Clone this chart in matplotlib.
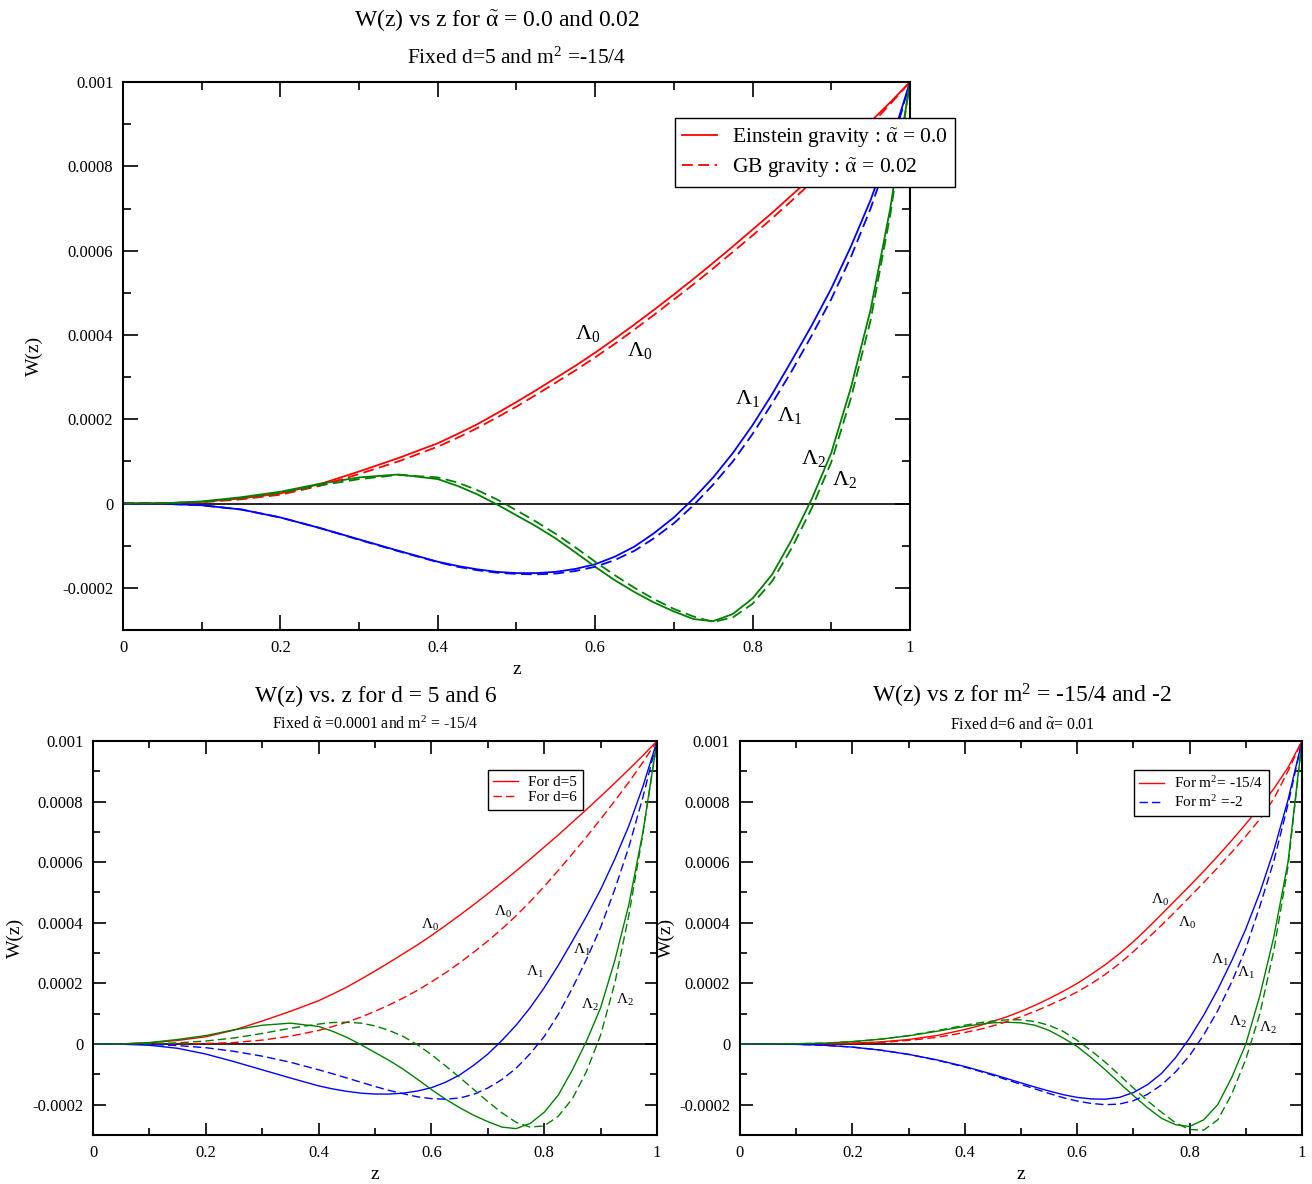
import matplotlib
matplotlib.use("Agg")
import matplotlib.pyplot as plt
from matplotlib.ticker import MultipleLocator, FuncFormatter

plt.rcParams['font.family'] = ['Liberation Serif', 'DejaVu Serif']
plt.rcParams['mathtext.fontset'] = 'custom'
plt.rcParams['mathtext.rm'] = 'Liberation Serif'
plt.rcParams['mathtext.it'] = 'Liberation Serif'
plt.rcParams['mathtext.bf'] = 'Liberation Serif:bold'

# valores (W em unidades de 1e-4)
z = [0, 0.05, 0.1, 0.15, 0.2, 0.25, 0.3, 0.35, 0.4, 0.425, 0.45, 0.475, 0.5,
     0.525, 0.55, 0.575, 0.6, 0.625, 0.65, 0.675, 0.7, 0.725, 0.75, 0.775, 0.8,
     0.825, 0.85, 0.875, 0.9, 0.925, 0.95, 0.975, 1.0]

# painel de cima: Einstein (alpha=0.0) e GB (alpha=0.02), d=5
w0_ein = [0, 0.005, 0.04, 0.12, 0.24, 0.46, 0.76, 1.08, 1.43, 1.65, 1.88, 2.14, 2.41,
          2.69, 2.98, 3.27, 3.58, 3.91, 4.25, 4.6, 4.96, 5.33, 5.71, 6.1, 6.5,
          6.9, 7.32, 7.74, 8.17, 8.61, 9.06, 9.52, 10.0]
w0_gb = [0, 0.004, 0.03, 0.1, 0.21, 0.42, 0.7, 1.0, 1.35, 1.56, 1.79, 2.04, 2.3,
         2.58, 2.87, 3.16, 3.47, 3.79, 4.13, 4.48, 4.84, 5.2, 5.58, 5.97, 6.36,
         6.77, 7.19, 7.62, 8.06, 8.51, 8.98, 9.48, 10.0]
w1_ein = [0, -0.004, -0.04, -0.14, -0.33, -0.58, -0.85, -1.12, -1.38, -1.48, -1.56, -1.62, -1.65,
          -1.65, -1.62, -1.55, -1.44, -1.26, -1.02, -0.7, -0.33, 0.12, 0.62, 1.2, 1.86,
          2.6, 3.4, 4.22, 5.1, 6.1, 7.2, 8.5, 10.0]
w1_gb = [0, -0.004, -0.04, -0.14, -0.33, -0.58, -0.86, -1.13, -1.39, -1.5, -1.58, -1.64, -1.67,
         -1.68, -1.66, -1.6, -1.5, -1.34, -1.12, -0.82, -0.47, -0.04, 0.45, 1.0, 1.65,
         2.38, 3.15, 3.98, 4.85, 5.85, 7.0, 8.35, 10.0]
w2_ein = [0, 0.005, 0.05, 0.15, 0.28, 0.47, 0.62, 0.69, 0.58, 0.42, 0.22, -0.02, -0.28,
          -0.54, -0.83, -1.16, -1.5, -1.82, -2.1, -2.35, -2.56, -2.74, -2.79, -2.62, -2.25,
          -1.68, -0.85, 0.1, 1.2, 2.75, 4.6, 7.0, 10.0]
w2_gb = [0, 0.004, 0.04, 0.13, 0.25, 0.43, 0.58, 0.68, 0.62, 0.5, 0.32, 0.1, -0.16,
         -0.43, -0.72, -1.04, -1.38, -1.7, -2.0, -2.27, -2.5, -2.68, -2.81, -2.7, -2.38,
         -1.84, -1.05, -0.12, 0.98, 2.5, 4.35, 6.85, 10.0]

# painel de baixo, esquerda: d=5 e d=6 (alpha=0.0001)
w0_d5, w1_d5, w2_d5 = w0_ein, w1_ein, w2_ein
w0_d6 = [0, 0, 0, 0.005, 0.02, 0.05, 0.13, 0.26, 0.45, 0.58, 0.72, 0.89, 1.08,
         1.29, 1.52, 1.77, 2.05, 2.35, 2.68, 3.03, 3.4, 3.8, 4.23, 4.7, 5.2,
         5.73, 6.28, 6.84, 7.42, 8.02, 8.64, 9.3, 10.0]
w1_d6 = [0, -0.002, -0.01, -0.05, -0.12, -0.24, -0.4, -0.6, -0.85, -0.98, -1.12, -1.26, -1.4,
         -1.53, -1.64, -1.74, -1.8, -1.82, -1.78, -1.66, -1.45, -1.17, -0.8, -0.32, 0.25,
         0.98, 1.85, 2.8, 3.85, 5.1, 6.5, 8.15, 10.0]
w2_d6 = [0, 0.002, 0.01, 0.04, 0.1, 0.2, 0.35, 0.52, 0.66, 0.71, 0.72, 0.69, 0.6,
         0.45, 0.25, -0.02, -0.35, -0.72, -1.1, -1.5, -1.9, -2.27, -2.58, -2.74, -2.7,
         -2.38, -1.8, -0.9, 0.3, 2.0, 4.25, 6.95, 10.0]

# painel de baixo, direita: m^2=-15/4 e m^2=-2 (d=6, alpha=0.01)
w0_m154 = [0, 0, 0, 0.01, 0.03, 0.07, 0.15, 0.28, 0.48, 0.6, 0.75, 0.9, 1.08,
           1.28, 1.5, 1.74, 2.0, 2.3, 2.62, 2.98, 3.38, 3.82, 4.28, 4.75, 5.22,
           5.7, 6.2, 6.72, 7.26, 7.83, 8.43, 9.12, 10.0]
w0_m2 = [0, 0, 0, 0.01, 0.02, 0.05, 0.12, 0.22, 0.38, 0.48, 0.6, 0.74, 0.9,
         1.08, 1.28, 1.49, 1.72, 1.99, 2.3, 2.65, 3.05, 3.48, 3.92, 4.38, 4.85,
         5.33, 5.82, 6.33, 6.86, 7.42, 8.1, 9.0, 10.0]
w1_m154 = [0, -0.002, -0.01, -0.04, -0.1, -0.2, -0.34, -0.52, -0.74, -0.87, -1.0, -1.14, -1.28,
           -1.42, -1.55, -1.67, -1.76, -1.81, -1.82, -1.76, -1.6, -1.34, -0.97, -0.45, 0.2,
           0.95, 1.8, 2.75, 3.8, 5.0, 6.4, 8.05, 10.0]
w1_m2 = [0, -0.002, -0.01, -0.04, -0.1, -0.2, -0.34, -0.53, -0.76, -0.89, -1.03, -1.18, -1.33,
         -1.48, -1.63, -1.77, -1.88, -1.96, -2.0, -1.98, -1.87, -1.66, -1.35, -0.92, -0.38,
         0.3, 1.1, 2.05, 3.15, 4.55, 6.05, 7.9, 10.0]
w2_m154 = [0, 0.002, 0.01, 0.03, 0.08, 0.16, 0.27, 0.42, 0.58, 0.65, 0.7, 0.72, 0.7,
           0.62, 0.45, 0.2, -0.08, -0.45, -0.85, -1.28, -1.7, -2.1, -2.45, -2.66, -2.72,
           -2.5, -2.0, -1.1, 0.0, 1.6, 3.55, 6.0, 10.0]
w2_m2 = [0, 0.002, 0.01, 0.03, 0.08, 0.16, 0.28, 0.44, 0.62, 0.7, 0.76, 0.8, 0.8,
         0.74, 0.62, 0.42, 0.12, -0.22, -0.6, -1.02, -1.45, -1.87, -2.25, -2.6, -2.82,
         -2.84, -2.5, -1.65, -0.5, 1.0, 3.1, 5.85, 10.0]


def escala(w):
    return [v * 1e-4 for v in w]


def fmt(v, pos):
    if abs(v) < 1e-12:
        return "0"
    return "%g" % round(v, 6)


def eixos(ax, tam):
    ax.set_xlim(0, 1)
    ax.set_ylim(-0.0003, 0.001)
    ax.xaxis.set_major_locator(MultipleLocator(0.2))
    ax.xaxis.set_minor_locator(MultipleLocator(0.1))
    ax.yaxis.set_major_locator(MultipleLocator(0.0002))
    ax.yaxis.set_minor_locator(MultipleLocator(0.0001))
    ax.xaxis.set_major_formatter(FuncFormatter(fmt))
    ax.yaxis.set_major_formatter(FuncFormatter(fmt))
    ax.tick_params(which='both', direction='in', top=True, right=True, width=1.2, labelsize=12)
    ax.tick_params(which='major', length=tam, pad=7)
    ax.tick_params(which='minor', length=tam * 0.55)
    for s in ax.spines.values():
        s.set_linewidth(1.5)
    ax.axhline(0, color='k', lw=1.2, zorder=1)


def curvas(ax, solidas, tracejadas, lw):
    cores = ['red', 'blue', 'green']
    for w, c in zip(solidas, cores):
        ax.plot(z, escala(w), color=c, lw=lw, ls='-')
    for w, c in zip(tracejadas, cores):
        ax.plot(z, escala(w), color=c, lw=lw, ls=(0, (6, 3)))


def legenda(ax, cores, textos, lw, pos, fs, esp):
    h1, = ax.plot([], [], color=cores[0], lw=lw, ls='-')
    h2, = ax.plot([], [], color=cores[1], lw=lw, ls=(0, (6, 3)))
    leg = ax.legend([h1, h2], textos, loc='upper left', bbox_to_anchor=pos,
                    fontsize=fs, fancybox=False, framealpha=1, edgecolor='k',
                    handlelength=1.6, handletextpad=0.7, borderaxespad=0,
                    labelspacing=esp, borderpad=0.35)
    leg.get_frame().set_linewidth(1.0)


fig = plt.figure(figsize=(13.12, 11.84), dpi=100)

# ---- painel de cima
ax1 = fig.add_axes([0.09375, 0.4679, 0.5998, 0.4628])
curvas(ax1, [w0_ein, w1_ein, w2_ein], [w0_gb, w1_gb, w2_gb], 1.3)
eixos(ax1, 11)
ax1.set_xlabel("z", fontsize=14, labelpad=4)
ax1.set_ylabel("W(z)", fontsize=14, labelpad=14)
legenda(ax1, ['red', 'red'], [r"Einstein gravity : $\tilde{\alpha}$ = 0.0",
                              r"GB gravity : $\tilde{\alpha}$ = 0.02"],
        1.3, (0.701, 0.934), 15.5, 0.3)
for (x, y, t) in [(0.59, 4.03, "0"), (0.657, 3.63, "0"), (0.794, 2.5, "1"),
                  (0.847, 2.08, "1"), (0.877, 1.08, "2"), (0.917, 0.57, "2")]:
    ax1.text(x, y * 1e-4, r"$\Lambda_{%s}$" % t, fontsize=16, ha='center', va='center')

fig.text(0.379, 0.983, r"W(z) vs z for $\tilde{\alpha}$ = 0.0 and 0.02", fontsize=17, ha='center', va='center')
fig.text(0.394, 0.951, r"Fixed d=5 and m$^{2}$ =-15/4", fontsize=15.5, ha='center', va='center')

# ---- painel de baixo, esquerda
ax2 = fig.add_axes([0.0709, 0.0414, 0.4299, 0.3328])
curvas(ax2, [w0_d5, w1_d5, w2_d5], [w0_d6, w1_d6, w2_d6], 1.0)
eixos(ax2, 9)
ax2.set_xlabel("z", fontsize=14, labelpad=4)
ax2.set_ylabel("W(z)", fontsize=14, labelpad=6)
legenda(ax2, ['red', 'red'], ["For d=5", "For d=6"], 1.0, (0.700, 0.926), 11, 0.1)
for (x, y, t) in [(0.598, 3.93, "0"), (0.727, 4.36, "0"), (0.784, 2.38, "1"),
                  (0.867, 3.1, "1"), (0.881, 1.29, "2"), (0.943, 1.45, "2")]:
    ax2.text(x, y * 1e-4, r"$\Lambda_{%s}$" % t, fontsize=11, ha='center', va='center')

fig.text(0.2866, 0.412, "W(z) vs. z for d = 5 and 6", fontsize=16.8, ha='center', va='center')
fig.text(0.2858, 0.388, r"Fixed $\tilde{\alpha}$ =0.0001 and m$^{2}$ = -15/4", fontsize=11.4, ha='center', va='center')

# ---- painel de baixo, direita
ax3 = fig.add_axes([0.5640, 0.0414, 0.4284, 0.3328])
curvas(ax3, [w0_m154, w1_m154, w2_m154], [w0_m2, w1_m2, w2_m2], 1.0)
eixos(ax3, 9)
ax3.set_xlabel("z", fontsize=14, labelpad=4)
ax3.set_ylabel("W(z)", fontsize=14, labelpad=3)
legenda(ax3, ['red', 'blue'], [r"For m$^{2}$= -15/4", r"For m$^{2}$ =-2"], 1.0,
        (0.701, 0.926), 11, 0.2)
for (x, y, t) in [(0.747, 4.75, "0"), (0.795, 4.0, "0"), (0.854, 2.77, "1"),
                  (0.9, 2.34, "1"), (0.886, 0.73, "2"), (0.94, 0.53, "2")]:
    ax3.text(x, y * 1e-4, r"$\Lambda_{%s}$" % t, fontsize=11, ha='center', va='center')

fig.text(0.779, 0.412, r"W(z) vs z for m$^{2}$ = -15/4 and -2", fontsize=17, ha='center', va='center')
fig.text(0.779, 0.388, r"Fixed d=6 and $\tilde{\alpha}$= 0.01", fontsize=11.3, ha='center', va='center')

fig.savefig("out.png", dpi=100)
